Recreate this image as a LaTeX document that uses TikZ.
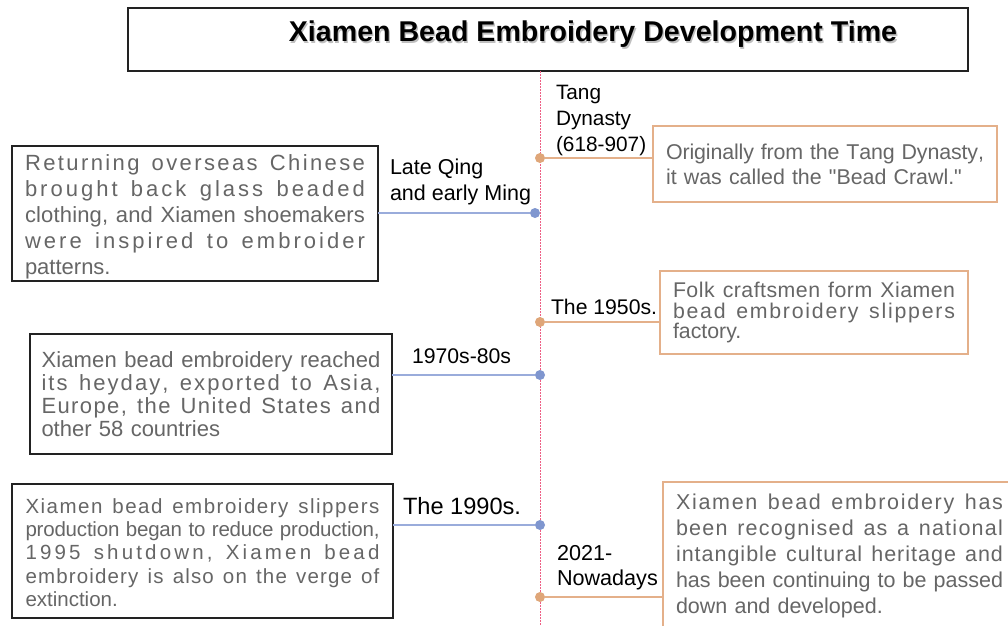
\documentclass[tikz,border=0pt]{standalone}
\usepackage{fontspec}
\setmainfont{Liberation Sans}[Ligatures=TeXOff]
\definecolor{orangeline}{HTML}{E4B08A}
\definecolor{orangedot}{HTML}{DFA679}
\definecolor{blueline}{HTML}{9AACDB}
\definecolor{bluedot}{HTML}{7F96CF}
\definecolor{txtgray}{HTML}{666666}
\definecolor{boxblack}{HTML}{222222}
\definecolor{pinkline}{HTML}{EE5F85}
\makeatletter
\newskip\spr@glue \spr@glue=0pt plus 1fil minus .4pt
\def\spr@end{\spr@end@}
\def\spr@first#1{#1\spr@next}
\def\spr@next#1{\ifx#1\spr@end\else\hskip\spr@glue #1\expandafter\spr@next\fi}
\newcommand\sline[1]{\leavevmode\hbox to \hsize{\spr@first#1\spr@end}}
\makeatother
\tikzset{
  every node/.style={inner sep=0pt, outer sep=0pt},
  leftbox/.style={draw=boxblack, line width=1.3pt, fill=white, text=txtgray, align=left, inner ysep=0pt},
  rightbox/.style={draw=orangeline, line width=1.5pt, fill=white, text=txtgray, align=left, inner ysep=0pt},
  tl/.style={text=black, align=left},
  odot/.style={circle, fill=orangedot, minimum size=10pt},
  bdot/.style={circle, fill=bluedot, minimum size=10pt},
  oline/.style={draw=orangeline, line width=1.5pt},
  bline/.style={draw=blueline, line width=1.5pt},
  timeline/.style={draw=pinkline, line width=1pt, dash pattern=on 1.5pt off 1.5pt},
}
\begin{document}
\begin{tikzpicture}[x=1pt, y=-1pt]
\clip (0,0) rectangle (1008,625);
\fill[white] (0,0) rectangle (1008,625);
% title
\node[draw=boxblack, line width=1.4pt, minimum width=840pt, minimum height=63pt] (titlebox) at (548,39.5) {};
\node[text=gray!50, font=\fontsize{28.6}{32}\selectfont\bfseries] (titleshadow) at (594.3,35.8) {Xiamen Bead Embroidery Development Time};
\node[text=black, font=\fontsize{28.6}{32}\selectfont\bfseries] (title) at (593,34.5) {Xiamen Bead Embroidery Development Time};
% timeline
\coordinate (ttop) at (540,71);
\coordinate (tbot) at (540,625);
\draw[timeline] (ttop) -- (tbot);
% boxes
\node[rightbox, text width=318pt, inner xsep=13pt, minimum height=76pt, font=\fontsize{21.4}{25}\selectfont] (tangbox) at (825,164) {%
\sline{Originally~from~the~Tang~Dynasty,}\\
it was called the "Bead Crawl."};
\node[leftbox, text width=340pt, inner xsep=13pt, minimum height=135pt, font=\fontsize{22}{26}\selectfont] (qingbox) at (195,213.5) {%
\leavevmode\rule{0pt}{22pt}\sline{Returning~overseas~Chinese}\\
\sline{brought~back~glass~beaded}\\
\sline{clothing,~and~Xiamen~shoemakers}\\
\sline{were~inspired~to~embroider}\\
patterns.};
\node[rightbox, text width=282pt, inner xsep=13pt, minimum height=83pt, font=\fontsize{21.3}{20.5}\selectfont] (fiftybox) at (814,312.5) {%
\sline{Folk~craftsmen~form~Xiamen}\\
\sline{bead~embroidery~slippers}\\
factory.};
\node[leftbox, text width=339pt, inner xsep=11.5pt, minimum height=120pt, font=\fontsize{22}{22.8}\selectfont] (seventybox) at (211,394) {%
\sline{Xiamen~bead~embroidery~reached}\\
\sline{its~heyday,~exported~to~Asia,}\\
\sline{Europe,~the~United~States~and}\\
other 58 countries};
\node[leftbox, text width=354pt, inner xsep=13.5pt, minimum height=134pt, font=\fontsize{20.5}{23.4}\selectfont] (ninetybox) at (202.5,551) {%
\leavevmode\rule{0pt}{18pt}\sline{Xiamen~bead~embroidery~slippers}\\
\sline{production~began~to~reduce~production,}\\
\sline{1995~shutdown,~Xiamen~bead}\\
\sline{embroidery~is~also~on~the~verge~of}\\
extinction.};
\node[rightbox, text width=327pt, inner xsep=13pt, minimum height=148pt, font=\fontsize{21.5}{26}\selectfont] (nowbox) at (839.5,556) {%
\sline{Xiamen~bead~embroidery~has}\\
\sline{been~recognised~as~a~national}\\
\sline{intangible~cultural~heritage~and}\\
\sline{has~been~continuing~to~be~passed}\\
down and developed.};
% dots
\node[odot] (dtang) at (540,158) {};
\node[bdot] (dqing) at (535,213) {};
\node[odot] (dfifty) at (540,322) {};
\node[bdot] (dseventy) at (540,375) {};
\node[bdot] (dninety) at (540,525) {};
\node[odot] (dnow) at (540,597) {};
% connectors
\draw[oline] (dtang.east) -- (dtang -| tangbox.west);
\draw[bline] (dqing.west) -- (dqing -| qingbox.east);
\draw[oline] (dfifty.east) -- (dfifty -| fiftybox.west);
\draw[bline] (dseventy.west) -- (dseventy -| seventybox.east);
\draw[bline] (dninety.west) -- (dninety -| ninetybox.east);
\draw[oline] (dnow.east) -- (dnow -| nowbox.west);
% labels
\node[tl, anchor=west, font=\fontsize{20.8}{26}\selectfont] (ltang) at (556,120) {Tang\\Dynasty\\(618-907)};
\node[tl, anchor=west, font=\fontsize{21.5}{26}\selectfont] (lqing) at (390,181.5) {Late Qing\\and early Ming};
\node[tl, anchor=west, font=\fontsize{21.2}{26}\selectfont] (lfifty) at (551,307) {The 1950s.};
\node[tl, anchor=west, font=\fontsize{21.2}{26}\selectfont] (lseventy) at (412,356) {1970s-80s};
\node[tl, anchor=west, font=\fontsize{23.6}{28}\selectfont] (lninety) at (403,506) {The 1990s.};
\node[tl, anchor=west, font=\fontsize{21.6}{25}\selectfont] (lnow) at (557,568) {2021-\\Nowadays};
\end{tikzpicture}
\end{document}
